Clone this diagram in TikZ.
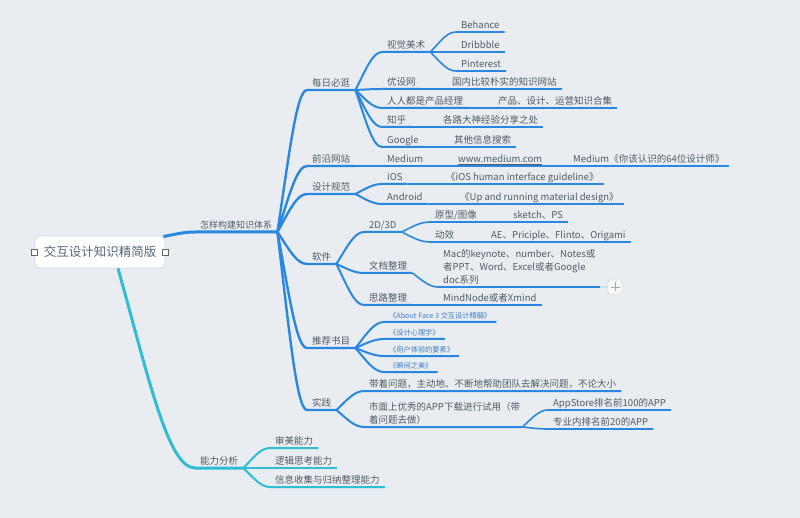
\documentclass[tikz,border=0pt]{standalone}
\usepackage{fontspec}
\setmainfont{Noto Sans CJK SC}
\usetikzlibrary{calc}
\definecolor{bgc}{HTML}{E9EDF1}
\definecolor{blu}{HTML}{2A87E0}
\definecolor{cyn}{HTML}{2FBDD3}
\definecolor{txt}{HTML}{505B66}
\definecolor{bok}{HTML}{3E7FC6}
\definecolor{rim}{HTML}{BCDCF7}
\definecolor{rtx}{HTML}{56687A}

\begin{document}
\begin{tikzpicture}
    [x=1pt, y=-1pt,
    br/.style={to path={let \p1=(\tikztostart), \p2=(\tikztotarget) in
        .. controls ({\x1+0.4*(\x2-\x1)},{\y1+0.55*(\y2-\y1)}) and ({\x1+0.65*(\x2-\x1)},\y2) .. (\tikztotarget)}},
    tp/.style={anchor=south west, inner xsep=5pt, inner ysep=1.5pt, text depth=2pt, text=txt,
        font=\fontsize{9.5}{13}\selectfont},
    bk/.style={tp, text=bok, text depth=1.5pt, font=\fontsize{7.2}{9}\selectfont},
    l1/.style={draw=blu, line width=3pt},
    l2/.style={draw=blu, line width=2.4pt},
    l3/.style={draw=blu, line width=2pt},
    l4/.style={draw=blu, line width=1.6pt},
    hd/.style={draw=black!60, fill=white, line width=0.9pt, minimum size=6pt, inner sep=0pt},
    pl/.style={draw=black!20, fill=white!55!bgc, rounded corners=2pt, minimum size=14pt, inner sep=0pt,
        path picture={\draw[black!35, line width=0.9pt]
            ([xshift=-4.5pt]path picture bounding box.center) -- ([xshift=4.5pt]path picture bounding box.center)
            ([yshift=-4.5pt]path picture bounding box.center) -- ([yshift=4.5pt]path picture bounding box.center);}}]
        \fill[bgc] (0,0) rectangle (800,518);
        \useasboundingbox (0,0) rectangle (800,518);

        \node[draw=rim, fill=white, line width=0.8pt, rounded corners=4pt, minimum width=130pt, minimum height=32pt,
            text=rtx, font=\fontsize{12.5}{15}\selectfont] (R) at (100,252) {交互设计知识精简版};
        \node[hd] (RL) at (R.west) {};
        \node[hd] (RR) at (R.east) {};

        \node[tp, font=\fontsize{9}{12}\selectfont] (zs) at (195,232) {怎样构建知识体系};
        \node[tp] (mr) at (307,90) {每日必逛};
        \node[tp] (qy) at (307,166) {前沿网站};
        \node[tp] (sj) at (307,194) {设计规范};
        \node[tp] (rj) at (307,264) {软件};
        \node[tp] (tj) at (307,348) {推荐书目};
        \node[tp] (sc) at (307,410) {实践};

        \node[tp] (sjms) at (382,52) {视觉美术};
        \node[tp] (beh) at (456,32) {Behance};
        \node[tp] (dri) at (456,52) {Dribbble};
        \node[tp] (pin) at (456,71) {Pinterest};
        \node[tp] (ysw) at (382,89) {优设网};
        \node[tp] (gn) at (447,89) {国内比较朴实的知识网站};
        \node[tp] (rr) at (382,108) {人人都是产品经理};
        \node[tp] (cp) at (493,108) {产品、设计、运营知识合集};
        \node[tp] (zh) at (382,127) {知乎};
        \node[tp] (gl) at (438,127) {各路大神经验分享之处};
        \node[tp] (gg) at (382,147) {Google};
        \node[tp] (qt) at (449,147) {其他信息搜索};

        \node[tp] (md) at (382,166) {Medium};
        \node[tp] (www) at (453,166) {\underline{www.medium.com}};
        \node[tp] (m64) at (568,166) {Medium《你该认识的64位设计师》};

        \node[tp] (ios) at (382,184) {iOS};
        \node[tp] (ihg) at (441,184) {《iOS human interface guideline》};
        \node[tp] (and) at (382,204) {Android};
        \node[tp] (urm) at (455,204) {《Up and running material design》};

        \node[tp] (td) at (364,232) {2D/3D};
        \node[tp] (yx) at (430,222) {原型/图像};
        \node[tp] (sk) at (508,222) {sketch、PS};
        \node[tp] (dx) at (430,242) {动效};
        \node[tp] (ae) at (486,242) {AE、Priciple、Flinto、Origami};
        \node[tp] (wd) at (364,273) {文档整理};
        \node[tp, align=left] (mac) at (438,287) {Mac的keynote、number、Notes或\\者PPT、Word、Excel或者Google\\doc系列};
        \node[pl] (plus) at (615,287) {};
        \node[tp] (sl) at (364,305) {思路整理};
        \node[tp] (mn) at (438,305) {MindNode或者Xmind};

        \node[bk] (af) at (384,322) {《About Face 3 交互设计精髓》};
        \node[bk] (xl) at (384,339) {《设计心理学》};
        \node[bk] (yh) at (384,356) {《用户体验的要素》};
        \node[bk] (sm) at (384,372) {《瞬间之美》};

        \node[tp] (dz) at (364,391) {带着问题，主动地、不断地帮助团队去解决问题，不论大小};
        \node[tp, text depth=, inner ysep=2.5pt, align=left, text width=148pt] (sy) at (364,427)
            {市面上优秀的APP下载进行试用（带\\着问题去做）};
        \node[tp] (as) at (548,410) {AppStore排名前100的APP};
        \node[tp] (zy) at (548,429) {专业内排名前20的APP};

        \node[tp] (nl) at (195,468) {能力分析};
        \node[tp] (sme) at (270,448) {审美能力};
        \node[tp] (lj) at (270,468) {逻辑思考能力};
        \node[tp] (xx) at (270,487) {信息收集与归纳整理能力};

        \draw[l1] ([xshift=-2pt,yshift=-1pt]R.north east) to[br] (zs.south west) -- (zs.south east);
        \draw[l1, draw=cyn] ([xshift=18pt]R.south) to[br] (nl.south west) -- (nl.south east);

        \foreach \c in {mr,qy,sj,rj,tj,sc}
            \draw[l2] (zs.south east) to[br] (\c.south west) -- (\c.south east);
        \foreach \c in {sjms,ysw,rr,zh,gg}
            \draw[l3] (mr.south east) to[br] (\c.south west) -- (\c.south east);
        \foreach \c in {beh,dri,pin}
            \draw[l4] (sjms.south east) to[br] (\c.south west) -- (\c.south east);
        \foreach \a/\b in {ysw/gn,rr/cp,zh/gl,gg/qt,md/www,www/m64,ios/ihg,and/urm,yx/sk,dx/ae,wd/mac,sl/mn}
            \draw[l4] (\a.south east) to[br] (\b.south west) -- (\b.south east);
        \draw[l3] (qy.south east) to[br] (md.south west) -- (md.south east);
        \foreach \c in {ios,and}
            \draw[l3] (sj.south east) to[br] (\c.south west) -- (\c.south east);
        \foreach \c in {td,wd,sl}
            \draw[l3] (rj.south east) to[br] (\c.south west) -- (\c.south east);
        \foreach \c in {yx,dx}
            \draw[l4] (td.south east) to[br] (\c.south west) -- (\c.south east);
        \foreach \c in {af,xl,yh,sm}
            \draw[l3] (tj.south east) to[br] (\c.south west) -- (\c.south east);
        \foreach \c in {dz,sy}
            \draw[l3] (sc.south east) to[br] (\c.south west) -- (\c.south east);
        \foreach \c in {as,zy}
            \draw[l4] (sy.south east) to[br] (\c.south west) -- (\c.south east);
        \foreach \c in {sme,lj,xx}
            \draw[l3, draw=cyn] (nl.south east) to[br] (\c.south west) -- (\c.south east);
        \draw[l4, draw=blu!25] (mac.south east) -- (plus.west);
   \end{tikzpicture}
\end{document}
